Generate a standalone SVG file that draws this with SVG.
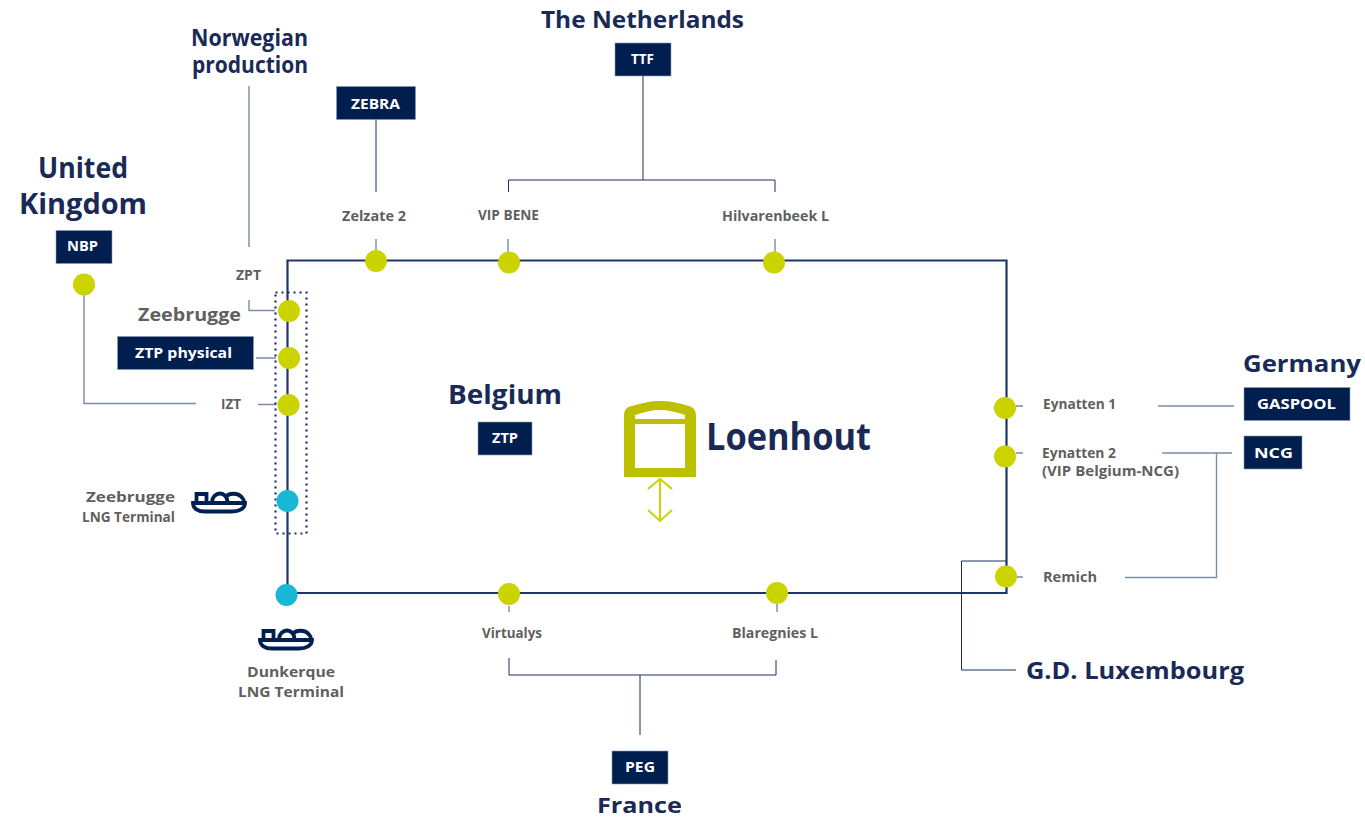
<svg xmlns="http://www.w3.org/2000/svg" width="1365" height="819" viewBox="0 0 1365 819">
<style>
text{font-family:"Open Sans","Noto Sans","Liberation Sans",sans-serif;font-weight:700;text-anchor:middle}
.t{fill:#1a2a56;font-size:23px}
.l{fill:#5f5f5f;font-size:14px}
.b{fill:#fff;font-size:15px}
.r{fill:#001f4e;stroke:#8c9ab5;stroke-width:.6}
.c{fill:none;stroke:#7c8aa8;stroke-width:1.4}
.d{fill:none;stroke:#1a2f63;stroke-width:1}
.m{fill:none;stroke:#1f3768;stroke-width:2.2}
.g{fill:#cbd300}
.y{fill:#18b7d5}
.s{fill:none;stroke:#00204f;stroke-width:3.8}
</style>
<defs>
<g id="ship"><path class="s" d="M2 12H54C54 17.500 48 20.500 41 20.500H14C7 20.500 2 17.500 2 12ZM5.500 11V3H15.500V11M21 11C21 6 25 2.500 29 2.500C33 2.500 36.500 6 36.500 11M34 6.500C38 1.500 47 1.500 51 6.500C52.500 8 53 9.500 53 11"/></g>
</defs>
<g id="connectors">
<path class="m" d="M287.500 594V260.500H1006.500V593H287.500"/>
<path class="c" d="M249 86V247M249 300V310.500H275M84 295V403.500H196M256 358H276M258 404.500H276"/>
<path class="d" d="M376 118V192"/>
<path class="c" d="M376 239V250M508 239V252M775 239V252"/>
<path class="d" d="M643 76V180M508.500 192V180H775V192"/>
<path class="d" d="M509 658V675H776V660M640 675V735"/>
<path class="c" d="M509 606V612M777 604V612"/>
<path class="c" d="M1016 406H1023M1016 453H1023M1017 577H1023M1158 406H1234M1162 453H1232M1125 577.500H1216.500V453"/>
<path class="d" d="M1006 561H961.500V670H1016"/>
<rect x="275.500" y="292.500" width="31" height="241" fill="none" stroke="#1a2f63" stroke-width="2.200" stroke-dasharray="2 4"/>
</g>
<g id="node-norway"><text class="t" x="249.500" y="46" textLength="117" lengthAdjust="spacingAndGlyphs">Norwegian</text><text class="t" x="250" y="73" textLength="116" lengthAdjust="spacingAndGlyphs">production</text></g>
<g id="node-zebra"><rect class="r" x="336.500" y="86.500" width="79" height="33"/><text class="b" x="375.500" y="109" textLength="49" lengthAdjust="spacingAndGlyphs">ZEBRA</text></g>
<g id="node-nl"><text class="t" x="642.500" y="28" textLength="203" lengthAdjust="spacingAndGlyphs">The Netherlands</text><rect class="r" x="615" y="43" width="56" height="33"/><text class="b" x="642.500" y="64" textLength="23" lengthAdjust="spacingAndGlyphs">TTF</text></g>
<g id="node-uk"><text class="t" x="83" y="178" style="font-size:28px" textLength="90" lengthAdjust="spacingAndGlyphs">United</text><text class="t" x="83" y="214" style="font-size:28px" textLength="128" lengthAdjust="spacingAndGlyphs">Kingdom</text><rect class="r" x="56" y="230.500" width="56" height="33"/><text class="b" x="82.500" y="251" textLength="31" lengthAdjust="spacingAndGlyphs">NBP</text><circle class="g" cx="84" cy="284.500" r="11"/></g>
<g id="node-zelzate"><text class="l" x="374" y="221" textLength="64" lengthAdjust="spacingAndGlyphs">Zelzate 2</text><circle class="g" cx="376" cy="261" r="11"/></g>
<g id="node-vip"><text class="l" x="508.500" y="220" textLength="61" lengthAdjust="spacingAndGlyphs">VIP BENE</text><circle class="g" cx="509" cy="262.500" r="11"/></g>
<g id="node-hilvarenbeek"><text class="l" x="775.500" y="221" textLength="107" lengthAdjust="spacingAndGlyphs">Hilvarenbeek L</text><circle class="g" cx="774" cy="262.500" r="11"/></g>
<g id="node-zpt"><text class="l" x="248.500" y="280" textLength="25" lengthAdjust="spacingAndGlyphs">ZPT</text><circle class="g" cx="289" cy="311" r="11"/></g>
<g id="node-zeebrugge"><text class="l" x="189.500" y="321" style="font-size:18px" textLength="103" lengthAdjust="spacingAndGlyphs">Zeebrugge</text></g>
<g id="node-ztp-physical"><rect class="r" x="117.500" y="336.500" width="136" height="33"/><text class="b" x="183.500" y="358" textLength="97" lengthAdjust="spacingAndGlyphs">ZTP physical</text><circle class="g" cx="289" cy="358" r="11"/></g>
<g id="node-izt"><text class="l" x="231" y="409" textLength="20" lengthAdjust="spacingAndGlyphs">IZT</text><circle class="g" cx="288.500" cy="405" r="11"/></g>
<g id="node-zee-lng"><text class="l" x="130.500" y="502" textLength="89" lengthAdjust="spacingAndGlyphs">Zeebrugge</text><text class="l" x="128.500" y="522" textLength="93" lengthAdjust="spacingAndGlyphs">LNG Terminal</text><use href="#ship" x="191" y="491"/><circle class="y" cx="287.500" cy="501" r="11"/></g>
<g id="node-dunkerque"><circle class="y" cx="286.500" cy="595" r="11"/><use href="#ship" x="258" y="628"/><text class="l" x="291" y="677" textLength="88" lengthAdjust="spacingAndGlyphs">Dunkerque</text><text class="l" x="291" y="697" textLength="106" lengthAdjust="spacingAndGlyphs">LNG Terminal</text></g>
<g id="node-virtualys"><text class="l" x="512" y="638" textLength="60" lengthAdjust="spacingAndGlyphs">Virtualys</text><circle class="g" cx="509" cy="594" r="11"/></g>
<g id="node-blaregnies"><text class="l" x="775" y="638" textLength="86" lengthAdjust="spacingAndGlyphs">Blaregnies L</text><circle class="g" cx="777" cy="593" r="11"/></g>
<g id="node-france"><rect class="r" x="612" y="751" width="56" height="33"/><text class="b" x="640" y="772" textLength="30" lengthAdjust="spacingAndGlyphs">PEG</text><text class="t" x="639.500" y="813" style="font-size:21px" textLength="85" lengthAdjust="spacingAndGlyphs">France</text></g>
<g id="node-belgium"><text class="t" x="505" y="404" style="font-size:27px" textLength="114" lengthAdjust="spacingAndGlyphs">Belgium</text><rect class="r" x="478" y="422" width="54" height="33"/><text class="b" x="505" y="443" textLength="26" lengthAdjust="spacingAndGlyphs">ZTP</text></g>
<g id="node-loenhout">
<path fill="#bcc000" fill-rule="evenodd" d="M624 477V416C624 409 627 407 632 406C642 403 650 401 660 401C670 401 680 403 689 406C693 407 696 410 696 416V477ZM635 424V468H685V424ZM635 419H685V415C677 412 668 410 660 410C652 410 644 412 635 415Z"/>
<path fill="none" stroke="#cbd300" stroke-width="2" d="M660 479V521M648 489L660 479L672 489M648 510L660 521L672 510"/>
<text x="788.500" y="450" fill="#1a2a56" font-size="37" textLength="165" lengthAdjust="spacingAndGlyphs">Loenhout</text>
</g>
<g id="node-eynatten1"><circle class="g" cx="1005" cy="408" r="11"/><text class="l" x="1079.500" y="409" textLength="73" lengthAdjust="spacingAndGlyphs">Eynatten 1</text></g>
<g id="node-eynatten2"><circle class="g" cx="1005" cy="456.500" r="11"/><text class="l" x="1079" y="458" textLength="74" lengthAdjust="spacingAndGlyphs">Eynatten 2</text><text class="l" x="1110.500" y="476" textLength="137" lengthAdjust="spacingAndGlyphs">(VIP Belgium-NCG)</text></g>
<g id="node-remich"><circle class="g" cx="1006" cy="576.500" r="11"/><text class="l" x="1070" y="582" textLength="54" lengthAdjust="spacingAndGlyphs">Remich</text></g>
<g id="node-germany"><text class="t" x="1302" y="372" textLength="118" lengthAdjust="spacingAndGlyphs">Germany</text><rect class="r" x="1244" y="387.500" width="106" height="33"/><text class="b" x="1296.500" y="409" textLength="79" lengthAdjust="spacingAndGlyphs">GASPOOL</text><rect class="r" x="1244" y="436" width="58" height="33"/><text class="b" x="1273.500" y="458" textLength="39" lengthAdjust="spacingAndGlyphs">NCG</text></g>
<g id="node-lux"><text class="t" x="1135" y="679" textLength="218" lengthAdjust="spacingAndGlyphs">G.D. Luxembourg</text></g>
</svg>
